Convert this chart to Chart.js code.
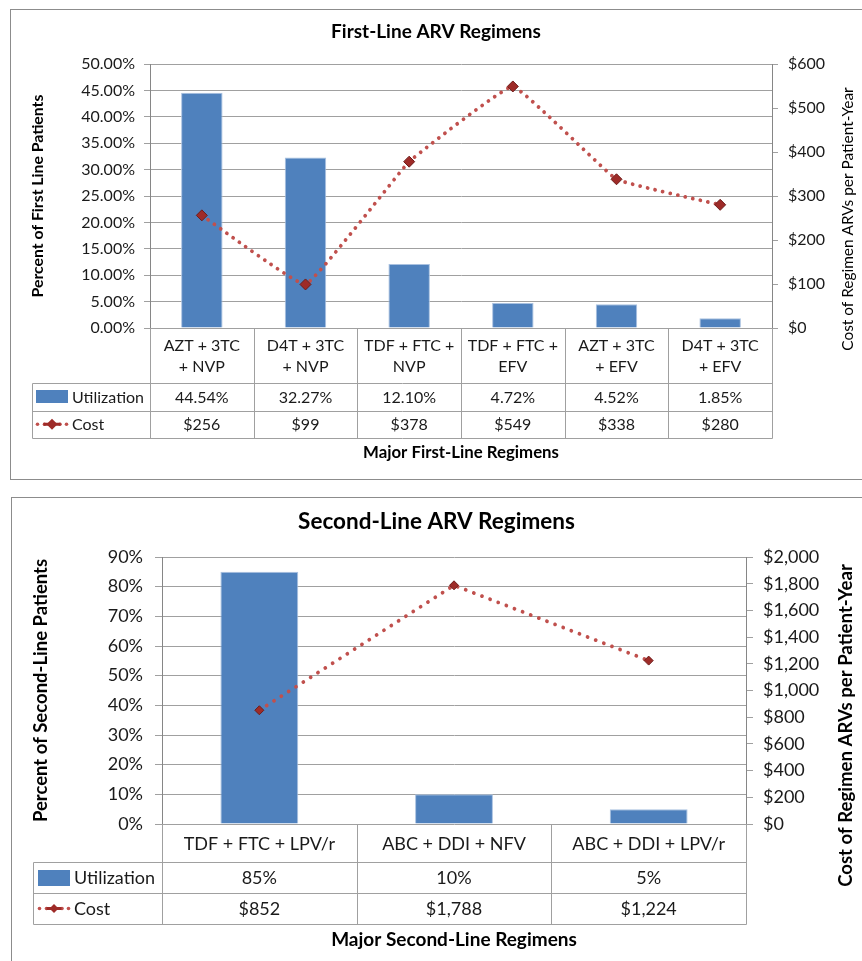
<!DOCTYPE html>
<html>
<head>
<meta charset="utf-8">
<script src="https://cdn.jsdelivr.net/npm/chart.js@4.4.1/dist/chart.umd.min.js"></script>
<style>
  html, body { margin: 0; padding: 0; background: #fff; width: 862px; height: 961px; overflow: hidden; }
  .frame { position: absolute; box-sizing: border-box; border: 1px solid #8c8c8c; background: #fff; }
  #frame1 { left: 10px; top: 9px; width: 900px; height: 471px; }
  #frame2 { left: 11px; top: 497px; width: 900px; height: 500px; }
  canvas { position: absolute; z-index: 2; }
  #firstLine { left: 10px; top: 9px; }
  #secondLine { left: 11px; top: 497px; }
</style>
</head>
<body>
<div class="frame" id="frame1"></div>
<div class="frame" id="frame2"></div>
<canvas id="firstLine" width="852" height="471"></canvas>
<canvas id="secondLine" width="851" height="470"></canvas>
<script>
// ---- First-line regimens ----
const firstLineRegimens = [
  ['AZT + 3TC', '+ NVP'],
  ['D4T + 3TC', '+ NVP'],
  ['TDF + FTC +', 'NVP'],
  ['TDF + FTC +', 'EFV'],
  ['AZT + 3TC', '+ EFV'],
  ['D4T + 3TC', '+ EFV']
];
const firstLineUtilization = [44.54, 32.27, 12.10, 4.72, 4.52, 1.85];   // percent of first-line patients
const firstLineCost = [256, 99, 378, 549, 338, 280];                     // USD per patient-year
const firstLinePctTicks = [0, 5, 10, 15, 20, 25, 30, 35, 40, 45, 50];
const firstLineCostTicks = [0, 100, 200, 300, 400, 500, 600];

// ---- Second-line regimens ----
const secondLineRegimens = ['TDF + FTC + LPV/r', 'ABC + DDI + NFV', 'ABC + DDI + LPV/r'];
const secondLineUtilization = [85, 10, 5];
const secondLineCost = [852, 1788, 1224];
const secondLinePctTicks = [0, 10, 20, 30, 40, 50, 60, 70, 80, 90];
const secondLineCostTicks = [0, 200, 400, 600, 800, 1000, 1200, 1400, 1600, 1800, 2000];

const FONT = 'Lato, "Open Sans", "DejaVu Sans", sans-serif';
const BAR_BLUE = '#4F81BD';
const LINE_RED = '#C0504D';
const MARKER_RED = '#9E2B28';
const GRID = '#A0A0A0';
const AXIS = '#868686';
const TEXT = '#1a1a1a';

const pct2 = v => v.toFixed(2) + '%';
const pct0 = v => v + '%';
const usd = v => '$' + v.toLocaleString('en-US');

// Draws the data table under the plot (category header, value rows with
// legend keys), the x-axis title and a bottom-to-top right-axis title.
const dataTable = {
  id: 'dataTable',
  afterDraw(chart, _args, o) {
    if (!o || !o.rows) return;
    const ctx = chart.ctx, ca = chart.chartArea, xs = chart.scales.x;
    const labels = chart.data.labels, n = labels.length;
    const half = n > 1 ? (xs.getPixelForValue(1) - xs.getPixelForValue(0)) / 2 : ca.width / 2;
    const edges = [];
    for (let i = 0; i < n; i++) edges.push(xs.getPixelForValue(i) - half);
    edges.push(xs.getPixelForValue(n - 1) + half);

    const top = ca.bottom;
    const r1 = top + o.headerHeight;
    const r2 = r1 + o.rowHeight;
    const r3 = r2 + o.rowHeight;
    const px = v => Math.round(v) + 0.5;

    ctx.save();
    // grid of the table
    ctx.strokeStyle = o.lineColor;
    ctx.lineWidth = 1;
    ctx.beginPath();
    edges.forEach(x => { ctx.moveTo(px(x), Math.round(top)); ctx.lineTo(px(x), px(r3)); });
    ctx.moveTo(px(o.legendLeft), px(r1)); ctx.lineTo(px(o.legendLeft), px(r3));
    [r1, r2, r3].forEach(y => { ctx.moveTo(px(o.legendLeft), px(y)); ctx.lineTo(px(edges[n]), px(y)); });
    ctx.stroke();

    // category header
    ctx.fillStyle = o.color;
    ctx.textAlign = 'center';
    ctx.textBaseline = 'middle';
    ctx.font = o.fontSize + 'px ' + FONT;
    labels.forEach((lab, i) => {
      const lines = Array.isArray(lab) ? lab : [lab];
      const cx = xs.getPixelForValue(i);
      const cy = (top + r1) / 2 + 1;
      lines.forEach((t, k) => ctx.fillText(t, cx, cy + (k - (lines.length - 1) / 2) * o.headerLineHeight));
    });

    // value rows with legend keys
    o.rows.forEach((row, j) => {
      const cy = j === 0 ? (r1 + r2) / 2 : (r2 + r3) / 2;
      const ds = chart.data.datasets[row.dataset];
      const kx = o.legendLeft + o.keyInset;
      if (row.key === 'bar') {
        ctx.fillStyle = ds.backgroundColor;
        ctx.fillRect(kx, Math.round(cy - o.keyHeight / 2), o.keyWidth, o.keyHeight);
      } else {
        ctx.fillStyle = ds.borderColor;
        const dots = [kx + 1.5, kx + 8.5, kx + o.keyWidth - 8, kx + o.keyWidth - 1.5];
        dots.forEach(dx => { ctx.beginPath(); ctx.arc(dx, cy, 1.8, 0, Math.PI * 2); ctx.fill(); });
        const mx = kx + o.keyWidth / 2, r = ds.pointRadius;
        ctx.fillStyle = ds.pointBackgroundColor;
        ctx.beginPath();
        ctx.moveTo(mx, cy - r); ctx.lineTo(mx + r, cy); ctx.lineTo(mx, cy + r); ctx.lineTo(mx - r, cy);
        ctx.closePath(); ctx.fill();
        ctx.fillRect(mx - r - 3, cy - 1.5, 2 * r + 6, 3);
      }
      ctx.fillStyle = o.color;
      ctx.textAlign = 'left';
      ctx.fillText(row.label, o.legendLeft + o.textInset, cy + 1);
      ctx.textAlign = 'center';
      row.values.forEach((v, i) => ctx.fillText(v, xs.getPixelForValue(i), cy + 1));
    });

    // x-axis title under the table
    ctx.font = 'bold ' + o.xTitle.size + 'px ' + FONT;
    ctx.fillStyle = '#000';
    ctx.fillText(o.xTitle.text, (ca.left + ca.right) / 2, r3 + o.xTitle.offset);

    // right-axis title, reading bottom to top
    const rt = o.rightTitle;
    ctx.font = (rt.bold ? 'bold ' : '') + rt.size + 'px ' + FONT;
    ctx.translate(chart.width - rt.inset, (ca.top + ca.bottom) / 2 + rt.shift);
    ctx.rotate(-Math.PI / 2);
    ctx.fillText(rt.text, 0, 0);
    ctx.restore();
  }
};

function fixedTicks(values) {
  return scale => { scale.ticks = values.map(v => ({ value: v })); };
}

function buildChart(id, spec) {
  const ctx = document.getElementById(id).getContext('2d');
  return new Chart(ctx, {
    data: {
      labels: spec.labels,
      datasets: [
        {
          type: 'line',
          label: 'Cost',
          data: spec.cost,
          yAxisID: 'y1',
          order: 0,
          borderColor: LINE_RED,
          borderWidth: 3.8,
          borderDash: [0.01, spec.dotGap],
          borderCapStyle: 'round',
          tension: spec.tension,
          pointStyle: 'rectRot',
          pointRadius: spec.markerRadius,
          pointBackgroundColor: MARKER_RED,
          pointBorderColor: '#6E1C1A',
          pointBorderWidth: 1,
          fill: false
        },
        {
          type: 'bar',
          label: 'Utilization',
          data: spec.utilization,
          yAxisID: 'y',
          order: 1,
          backgroundColor: BAR_BLUE,
          borderColor: '#A9C1E0',
          borderWidth: 1,
          categoryPercentage: 1,
          barPercentage: 0.4
        }
      ]
    },
    options: {
      responsive: false,
      animation: false,
      devicePixelRatio: 1,
      layout: { padding: { left: 0, right: 0, top: 0, bottom: spec.bottomSpace } },
      plugins: {
        legend: { display: false },
        tooltip: { enabled: false },
        title: {
          display: true,
          text: spec.title,
          color: '#000',
          font: { family: FONT, size: spec.titleSize, weight: 'bold' },
          padding: { top: spec.titlePadTop, bottom: spec.titlePadBottom }
        },
        dataTable: {
          headerHeight: spec.headerHeight,
          rowHeight: spec.rowHeight,
          headerLineHeight: 21,
          legendLeft: spec.legendLeft,
          keyInset: spec.keyInset,
          keyWidth: 32,
          keyHeight: spec.keyHeight,
          textInset: spec.textInset,
          fontSize: spec.tableFont,
          lineColor: GRID,
          color: TEXT,
          rows: [
            { label: 'Utilization', key: 'bar', dataset: 1, values: spec.utilization.map(spec.pctFmt) },
            { label: 'Cost', key: 'line', dataset: 0, values: spec.cost.map(usd) }
          ],
          xTitle: spec.xTitle,
          rightTitle: spec.rightTitle
        }
      },
      scales: {
        x: { display: false, offset: true, grid: { display: false } },
        y: {
          position: 'left',
          min: spec.pctTicks[0],
          max: spec.pctTicks[spec.pctTicks.length - 1],
          afterBuildTicks: fixedTicks(spec.pctTicks),
          afterFit: s => { s.width = spec.leftWidth; },
          grid: { color: GRID, lineWidth: 1, tickLength: spec.tickLen, drawTicks: true },
          border: { display: true, color: AXIS },
          ticks: {
            color: TEXT,
            padding: spec.leftPad,
            font: { family: FONT, size: spec.tickFont },
            callback: v => spec.pctFmt(v)
          },
          title: {
            display: true,
            text: spec.leftTitle.text,
            color: '#000',
            font: { family: FONT, size: spec.leftTitle.size, weight: 'bold' },
            padding: { top: spec.leftTitle.pad, bottom: 0 }
          }
        },
        y1: {
          position: 'right',
          min: spec.costTicks[0],
          max: spec.costTicks[spec.costTicks.length - 1],
          afterBuildTicks: fixedTicks(spec.costTicks),
          afterFit: s => { s.width = spec.rightWidth; },
          grid: { drawOnChartArea: false, color: GRID, tickLength: spec.tickLen, drawTicks: true },
          border: { display: true, color: AXIS },
          ticks: {
            color: TEXT,
            padding: spec.rightPad,
            font: { family: FONT, size: spec.tickFont },
            callback: v => usd(v)
          }
        }
      }
    },
    plugins: [dataTable]
  });
}

buildChart('firstLine', {
  labels: firstLineRegimens,
  utilization: firstLineUtilization,
  cost: firstLineCost,
  pctTicks: firstLinePctTicks,
  costTicks: firstLineCostTicks,
  pctFmt: pct2,
  title: 'First-Line ARV Regimens',
  titleSize: 19, titlePadTop: 11.6, titlePadBottom: 20.6,
  bottomSpace: 152,
  leftWidth: 140, rightWidth: 90,
  tickLen: 6, leftPad: 9, rightPad: 10, tickFont: 16,
  tension: 0.08, markerRadius: 5.5, dotGap: 7.7,
  headerHeight: 55, rowHeight: 27.5,
  legendLeft: 22, keyInset: 4, keyHeight: 13, textInset: 40, tableFont: 16,
  leftTitle: { text: 'Percent of First Line Patients', size: 15.8, pad: 18 },
  xTitle: { text: 'Major First-Line Regimens', size: 16.8, offset: 15 },
  rightTitle: { text: 'Cost of Regimen ARVs per Patient-Year', size: 15.4, bold: false, inset: 14, shift: 23 }
});

buildChart('secondLine', {
  labels: secondLineRegimens,
  utilization: secondLineUtilization,
  cost: secondLineCost,
  pctTicks: secondLinePctTicks,
  costTicks: secondLineCostTicks,
  pctFmt: pct0,
  title: 'Second-Line ARV Regimens',
  titleSize: 22.5, titlePadTop: 11.5, titlePadBottom: 21.5,
  bottomSpace: 143,
  leftWidth: 151, rightWidth: 116,
  tickLen: 7, leftPad: 12, rightPad: 10, tickFont: 18,
  tension: 0, markerRadius: 4.5, dotGap: 8.7,
  headerHeight: 38, rowHeight: 31,
  legendLeft: 22, keyInset: 5, keyHeight: 16, textInset: 41, tableFont: 18,
  leftTitle: { text: 'Percent of Second-Line Patients', size: 18.5, pad: 19 },
  xTitle: { text: 'Major Second-Line Regimens', size: 19, offset: 16 },
  rightTitle: { text: 'Cost of Regimen ARVs per Patient-Year', size: 18.6, bold: true, inset: 16, shift: 35 }
});
</script>
</body>
</html>
